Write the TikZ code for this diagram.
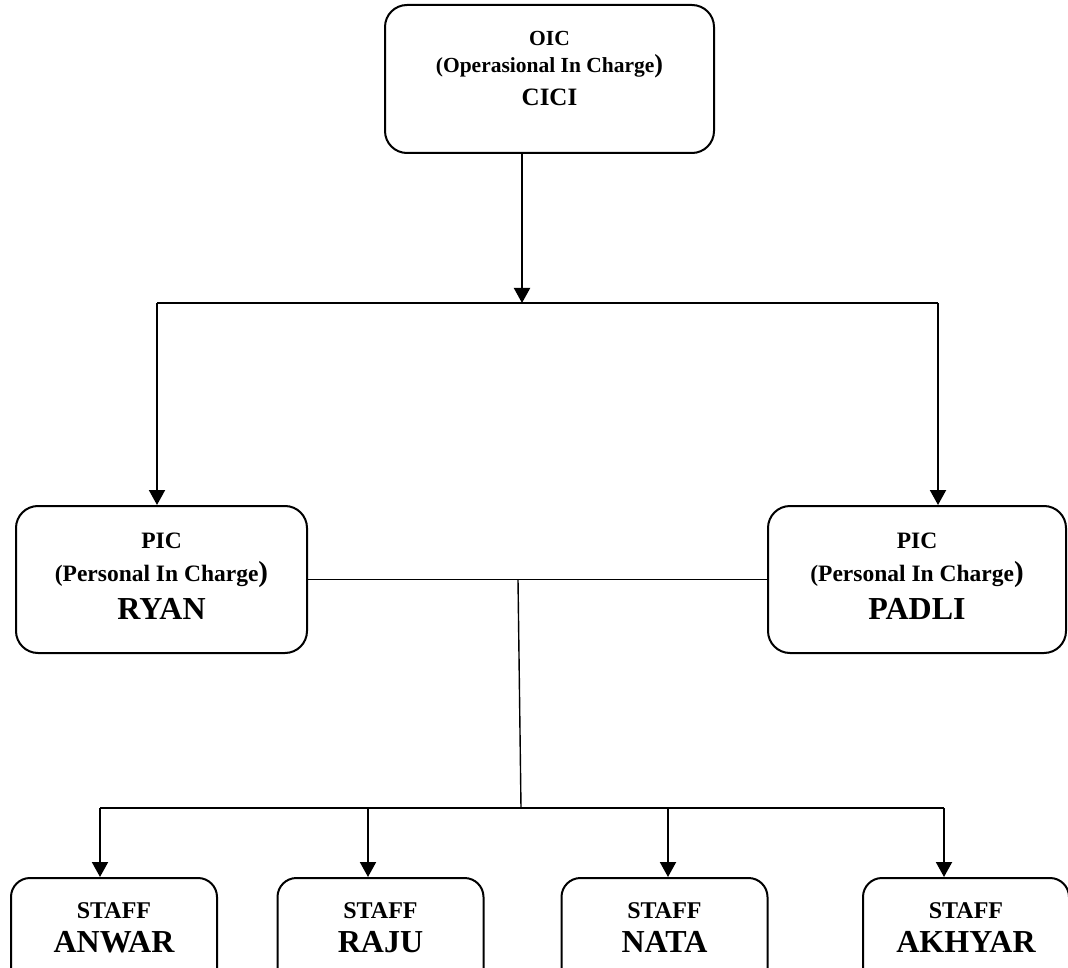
\documentclass[tikz,border=0pt]{standalone}
\usepackage{fontspec}
\setmainfont{Liberation Serif}
\usetikzlibrary{arrows.meta}

\newcommand{\fsz}[2]{\fontsize{#1}{#2}\selectfont}

\begin{document}
\begin{tikzpicture}[x=1pt, y=-1pt, line width=2pt,
    box/.style={draw, rounded corners=22pt, line width=2pt},
    txt/.style={align=center, inner sep=0pt, font=\bfseries},
    arr/.style={-{Triangle[width=16pt,length=15pt]}}]
  \useasboundingbox (0,0) rectangle (1068,968);
  \clip (0,0) rectangle (1068,968);

  % boxes
  \node[box, minimum width=329pt, minimum height=148pt] (oic) at (549.5, 79) {};
  \node[box, minimum width=291pt, minimum height=147pt] (ryan) at (161.5, 579.5) {};
  \node[box, minimum width=298pt, minimum height=147pt] (padli) at (917, 579.5) {};
  \foreach \x/\n in {114/anwar, 380.5/raju, 664.5/nata, 966/akhyar}{
    \node[box, rounded corners=19pt, minimum width=206pt, minimum height=112pt] (\n) at (\x, 934) {};}

  % texts
  \node[txt, font=\bfseries\fsz{21.5}{27}] (oictxt) at (549.5, 69)
    {OIC\\ (Operasional In Charge{\fsz{26}{27})}\\[6pt] {\fsz{25}{27}CICI}};
  \node[txt, font=\bfseries\fsz{23.5}{33}] (ryantxt) at (161.5, 576)
    {PIC\\ (Personal In Charge{\fsz{29}{33})}\\[5pt] {\fsz{32}{33}RYAN}};
  \node[txt, font=\bfseries\fsz{23.5}{33}] (padlitxt) at (917, 576)
    {PIC\\ (Personal In Charge{\fsz{29}{33})}\\[5pt] {\fsz{32}{33}PADLI}};
  \foreach \x/\n/\t in {114/anwar/ANWAR, 380.5/raju/RAJU, 664.5/nata/NATA, 966/akhyar/AKHYAR}{
    \node[txt, font=\bfseries\fsz{24}{34}] (\n txt) at (\x, 928) {STAFF\\ {\fsz{32}{34}\t}};}

  % OIC to PIC
  \coordinate (top) at (522, 303);
  \coordinate (hl) at (157, 303);
  \coordinate (hr) at (938, 303);
  \draw[arr] (oic.south -| top) -- (top);
  \draw (hl) -- (hr);
  \draw[arr] (hl) -- (hl |- ryan.north);
  \draw[arr] (hr) -- (hr |- padli.north);

  % PIC to staff
  \draw[line width=1.4pt] (ryan.east) -- (padli.west);
  \coordinate (pj) at (518, 579.5);
  \coordinate (sj) at (521, 808);
  \draw[line width=1.4pt] (pj) -- (sj);
  \coordinate (sl) at (100, 808);
  \coordinate (sr) at (944, 808);
  \draw (sl) -- (sr);
  \foreach \x/\n in {100/anwar, 368/raju, 668/nata, 944/akhyar}{
    \coordinate (s\n) at (\x, 808);
    \draw[arr] (s\n) -- (s\n |- \n.north);}
\end{tikzpicture}
\end{document}
